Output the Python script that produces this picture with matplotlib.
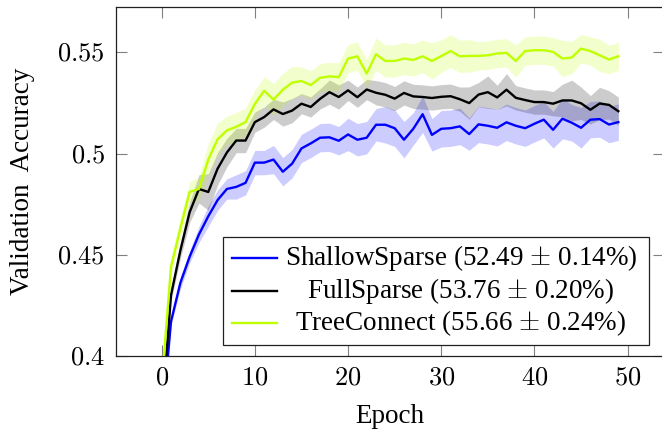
import numpy as np
import matplotlib
matplotlib.use("Agg")
import matplotlib.pyplot as plt
from matplotlib.patches import Rectangle
from matplotlib.lines import Line2D
from matplotlib.ticker import FuncFormatter

plt.rcParams['font.family'] = ['Liberation Serif', 'DejaVu Serif']
plt.rcParams['mathtext.fontset'] = 'cm'

epochs = list(range(50))

shallow_mean = [0.365, 0.417, 0.436, 0.449, 0.460, 0.469, 0.477, 0.4825, 0.4835, 0.4855,
                0.4955, 0.4955, 0.497, 0.491, 0.495, 0.5025, 0.505, 0.5078, 0.508, 0.5063,
                0.5094, 0.5068, 0.5078, 0.5142, 0.5142, 0.5125, 0.5068, 0.5122, 0.5194, 0.5092,
                0.5122, 0.5125, 0.5134, 0.5096, 0.5144, 0.5137, 0.5127, 0.5154, 0.5137, 0.5125,
                0.5147, 0.5167, 0.5117, 0.5172, 0.5152, 0.5127, 0.5167, 0.517, 0.5143, 0.5155]
shallow_std = [0.002, 0.002, 0.003, 0.003, 0.004, 0.005, 0.005, 0.005, 0.006, 0.006,
               0.006, 0.006, 0.007, 0.007, 0.007, 0.007, 0.007, 0.007, 0.007, 0.007,
               0.008, 0.008, 0.008, 0.008, 0.009, 0.009, 0.009, 0.008, 0.009, 0.008,
               0.009, 0.009, 0.009, 0.008, 0.009, 0.009, 0.009, 0.009, 0.009, 0.009,
               0.009, 0.009, 0.009, 0.010, 0.009, 0.010, 0.009, 0.009, 0.009, 0.009]

full_mean = [0.370, 0.430, 0.452, 0.471, 0.4825, 0.481, 0.4925, 0.5005, 0.5064, 0.5064,
             0.5155, 0.518, 0.5218, 0.5195, 0.5212, 0.5246, 0.523, 0.527, 0.5303, 0.5279,
             0.5312, 0.5278, 0.5316, 0.530, 0.529, 0.5271, 0.5299, 0.5282, 0.5279, 0.5274,
             0.528, 0.5283, 0.5268, 0.5249, 0.5291, 0.5303, 0.5277, 0.5315, 0.5275, 0.5264,
             0.5254, 0.5254, 0.5246, 0.5262, 0.5262, 0.5248, 0.5216, 0.5247, 0.524, 0.5209]
full_std = [0.002, 0.003, 0.004, 0.005, 0.007, 0.009, 0.008, 0.007, 0.006, 0.006,
            0.005, 0.005, 0.005, 0.006, 0.006, 0.005, 0.005, 0.005, 0.006, 0.006,
            0.005, 0.005, 0.005, 0.006, 0.006, 0.006, 0.006, 0.006, 0.006, 0.006,
            0.006, 0.006, 0.006, 0.008, 0.006, 0.008, 0.006, 0.008, 0.006, 0.006,
            0.006, 0.006, 0.006, 0.008, 0.010, 0.008, 0.007, 0.008, 0.007, 0.007]

tree_mean = [0.386, 0.444, 0.463, 0.481, 0.4825, 0.497, 0.507, 0.5114, 0.5132, 0.5155,
             0.5245, 0.531, 0.5266, 0.5315, 0.535, 0.5358, 0.5338, 0.5374, 0.5381, 0.5377,
             0.5469, 0.548, 0.5395, 0.549, 0.5457, 0.5457, 0.5469, 0.5462, 0.548, 0.5457,
             0.5481, 0.5506, 0.548, 0.5482, 0.5482, 0.5485, 0.5494, 0.5497, 0.5457, 0.5506,
             0.551, 0.551, 0.5502, 0.5469, 0.5474, 0.5518, 0.5506, 0.5485, 0.5464, 0.548]
tree_std = [0.002, 0.004, 0.005, 0.005, 0.006, 0.008, 0.008, 0.007, 0.007, 0.007,
            0.007, 0.007, 0.008, 0.008, 0.008, 0.007, 0.007, 0.007, 0.007, 0.007,
            0.007, 0.007, 0.007, 0.008, 0.008, 0.008, 0.008, 0.008, 0.008, 0.009,
            0.008, 0.008, 0.008, 0.008, 0.007, 0.007, 0.007, 0.007, 0.008, 0.007,
            0.007, 0.007, 0.007, 0.009, 0.008, 0.007, 0.007, 0.008, 0.007, 0.007]

series_labels = ["ShallowSparse (52.49 $\\pm$ 0.14%)",
                 "FullSparse (53.76 $\\pm$ 0.20%)",
                 "TreeConnect (55.66 $\\pm$ 0.24%)"]
series_colors = ["#0000ff", "#000000", "#bfff00"]

x_ticks = [0, 10, 20, 30, 40, 50]
y_ticks = [0.4, 0.45, 0.5, 0.55]

W, H = 662, 434
fig = plt.figure(figsize=(W / 100, H / 100), dpi=100)
ax = fig.add_axes([116 / W, (H - 356) / H, 548 / W, (356 - 7.3) / H])

means = [shallow_mean, full_mean, tree_mean]
stds = [shallow_std, full_std, tree_std]
x = np.array(epochs)

# shaded +/- std bands first, mean curves on top
for m, s, c in zip(means, stds, series_colors):
    m = np.array(m)
    s = np.array(s)
    ax.fill_between(x, m - s, m + s, color=c, alpha=0.2, linewidth=0, zorder=1)
for m, c in zip(means, series_colors):
    ax.plot(x, m, color=c, linewidth=1.7, zorder=3)

ax.set_xlim(-4.9, 53.9)
ax.set_ylim(0.4, 0.5722)
ax.set_xticks(x_ticks)
ax.set_yticks(y_ticks)
ax.xaxis.set_major_formatter(FuncFormatter(lambda v, p: f"${v:g}$"))
ax.yaxis.set_major_formatter(FuncFormatter(lambda v, p: f"${v:g}$"))
ax.tick_params(axis='both', which='major', direction='in', length=8, width=0.8,
               color='#808080', labelsize=19, top=True, right=True, pad=8)
for sp in ax.spines.values():
    sp.set_color('#202020')
    sp.set_linewidth(0.9)

ax.set_xlabel("Epoch", fontsize=19.5, labelpad=11)
ax.set_ylabel("Validation  Accuracy", fontsize=19.5, labelpad=16)

# legend box with centred entry text
box = Rectangle((0.1947, 0.0315), 0.9726 - 0.1947, 0.342 - 0.0315, transform=ax.transAxes,
                facecolor='white', edgecolor='#202020', linewidth=0.9, zorder=5)
ax.add_patch(box)
rows = [0.282, 0.1864, 0.0938]
for lab, c, yr in zip(series_labels, series_colors, rows):
    ax.add_line(Line2D([0.2122, 0.2932], [yr, yr], transform=ax.transAxes,
                       color=c, linewidth=1.7, zorder=6))
    ax.text(0.6296, yr, lab, transform=ax.transAxes, ha='center', va='center',
            fontsize=19.5, zorder=6)

fig.savefig("out.png", dpi=100)
